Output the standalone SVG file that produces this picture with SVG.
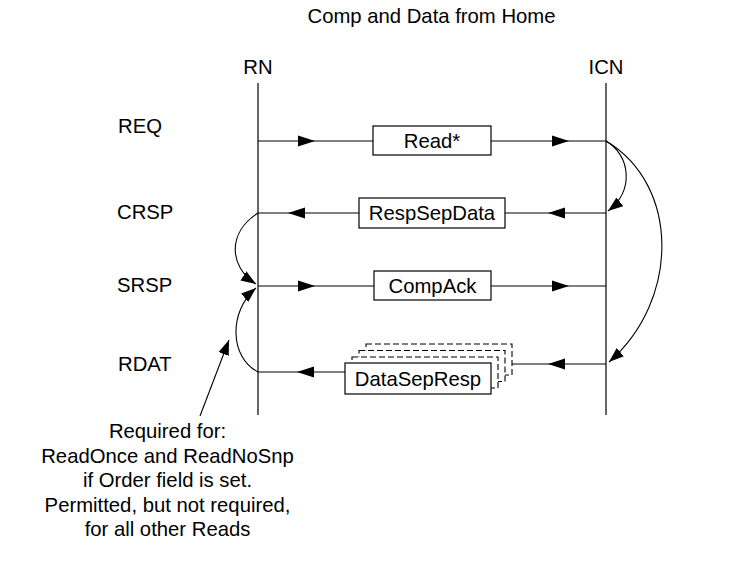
<svg xmlns="http://www.w3.org/2000/svg" width="742" height="564" viewBox="0 0 742 564">
<style>
text{font-family:"Liberation Sans",Arial,sans-serif;font-size:20.3px;fill:#000}
.c{text-anchor:middle}
.life{stroke:#333;stroke-width:1.5;fill:none}
.ln{stroke:#000;stroke-width:1.1;fill:none}
.box{fill:#fff;stroke:#000;stroke-width:1.2}
.dbox{fill:#fff;stroke:#000;stroke-width:1.1;stroke-dasharray:6 3}
.ah{fill:#000}
</style>
<defs>
<path id="ahr" d="M0,0 L-17,-5.5 L-17,5.5 Z"/>
<marker id="m" markerUnits="userSpaceOnUse" markerWidth="16" markerHeight="12" refX="15" refY="5.5" orient="auto">
<path d="M0,0 L15,5.5 L0,11 Z" fill="#000"/>
</marker>
</defs>
<rect width="742" height="564" fill="#fff"/>
<text class="c" x="431.5" y="23">Comp and Data from Home</text>
<g id="RN">
<text class="c" x="258" y="74">RN</text>
<line class="life" x1="258" y1="83" x2="258" y2="415"/>
</g>
<g id="ICN">
<text class="c" x="606" y="74">ICN</text>
<line class="life" x1="606" y1="83" x2="606" y2="415"/>
</g>
<g id="labels">
<text x="118" y="133">REQ</text>
<text x="117" y="219">CRSP</text>
<text x="117" y="292">SRSP</text>
<text x="118" y="371">RDAT</text>
</g>
<g id="connectors">
<line class="ln" x1="258" y1="141" x2="606" y2="141"/>
<line class="ln" x1="258" y1="213" x2="606" y2="213"/>
<line class="ln" x1="258" y1="286" x2="606" y2="286"/>
<line class="ln" x1="258" y1="372" x2="345" y2="372"/>
<line class="ln" x1="512" y1="364" x2="606" y2="364"/>
<use href="#ahr" class="ah" transform="translate(315,141)"/>
<use href="#ahr" class="ah" transform="translate(569,141)"/>
<use href="#ahr" class="ah" transform="translate(288,213) scale(-1,1)"/>
<use href="#ahr" class="ah" transform="translate(548,213) scale(-1,1)"/>
<use href="#ahr" class="ah" transform="translate(315,286)"/>
<use href="#ahr" class="ah" transform="translate(569,286)"/>
<use href="#ahr" class="ah" transform="translate(297,372) scale(-1,1)"/>
<use href="#ahr" class="ah" transform="translate(548,364) scale(-1,1)"/>
<path class="ln" d="M258,213 C228,232 228,266 256,284" marker-end="url(#m)"/>
<path class="ln" d="M258,372 C230,358 228,312 256,288" marker-end="url(#m)"/>
<path class="ln" d="M606,141 C630,155 635,190 608,211" marker-end="url(#m)"/>
<path class="ln" d="M606,141 C680,185 680,300 609,362" marker-end="url(#m)"/>
<line class="ln" x1="200" y1="416" x2="229" y2="340" marker-end="url(#m)"/>
</g>
<g id="read">
<rect class="box" x="373" y="126" width="118" height="29"/>
<text class="c" x="432" y="147.5">Read*</text>
</g>
<g id="respsepdata">
<rect class="box" x="359" y="198" width="146" height="30"/>
<text class="c" x="432" y="220">RespSepData</text>
</g>
<g id="compack">
<rect class="box" x="374" y="271" width="117" height="29"/>
<text class="c" x="432.5" y="292.5">CompAck</text>
</g>
<g id="datasepresp">
<rect class="dbox" x="366" y="344" width="146" height="31"/>
<rect class="dbox" x="359" y="350.5" width="146" height="31"/>
<rect class="dbox" x="352" y="357" width="146" height="31"/>
<rect class="box" x="345" y="363" width="146" height="31"/>
<text class="c" x="418" y="385.5">DataSepResp</text>
</g>
<g id="note">
<text class="c" x="167.5" y="438">Required for:</text>
<text class="c" x="167.5" y="462.5">ReadOnce and ReadNoSnp</text>
<text class="c" x="167.5" y="487">if Order field is set.</text>
<text class="c" x="167.5" y="511.5">Permitted, but not required,</text>
<text class="c" x="167.5" y="536">for all other Reads</text>
</g>
</svg>
